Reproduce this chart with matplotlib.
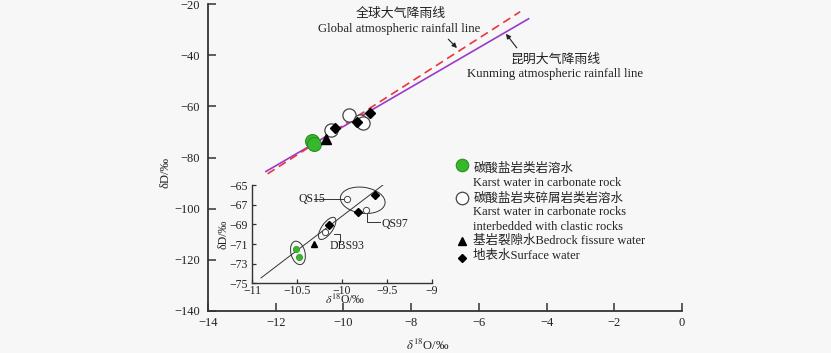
"""Stable isotope plot: dD vs d18O with inset (Kunming karst waters)."""

import matplotlib

matplotlib.use("Agg")
import matplotlib.pyplot as plt
from matplotlib.patches import Ellipse
from matplotlib.transforms import ScaledTranslation

plt.rcParams["font.family"] = ["Liberation Serif", "Noto Sans CJK SC", "DejaVu Sans"]
plt.rcParams["mathtext.fontset"] = "stix"
plt.rcParams["axes.unicode_minus"] = True

# ---- data, main panel ----
carb_x = [-10.93, -10.87]
carb_y = [-73.4, -74.7]
clastic_x = [-10.37, -9.84, -9.50, -9.42]
clastic_y = [-69.1, -63.3, -65.8, -66.6]
bedrock_x = [-10.52]
bedrock_y = [-72.8]
surface_x = [-10.25, -9.59, -9.22]
surface_y = [-68.5, -66.1, -62.6]

# rainfall lines: slope, intercept, x-range
global_line = (8.5, 17.7, -12.24, -4.78)
kunming_line = (7.7, 9.2, -12.29, -4.53)

# ---- data, inset ----
in_carb_x = [-10.51, -10.48]
in_carb_y = [-71.5, -72.3]
in_clastic_x = [-10.19, -9.94, -9.73]
in_clastic_y = [-69.75, -66.4, -67.5]
in_bedrock_x = [-10.31]
in_bedrock_y = [-71.0]
in_surface_x = [-10.14, -9.82, -9.63]
in_surface_y = [-69.1, -67.7, -66.0]
in_fit = (7.0, 1.85, -10.9, -9.53)

GREEN = "#36b82c"
PURPLE = "#9a3acb"
RED = "#e8363c"
INK = "#222222"
BG = "#f7f7f7"

fig = plt.figure(figsize=(8.31, 3.53), dpi=100, facecolor=BG)
ax = fig.add_axes([0.2503, 0.119, 0.5704, 0.869])
ax.set_facecolor(BG)
ax.set_xlim(-14, 0)
ax.set_ylim(-140, -20)
ax.set_xticks(range(-14, 1, 2))
ax.set_yticks(range(-140, -19, 20))
for s in ("top", "right"):
    ax.spines[s].set_visible(False)
for s in ("left", "bottom"):
    ax.spines[s].set_color("#333333")
    ax.spines[s].set_linewidth(1.3)
ax.tick_params(direction="in", length=6, width=1.1, colors="#333333",
               labelcolor=INK, labelsize=9)
ax.tick_params(axis="y", pad=6)
ax.tick_params(axis="x", pad=4)
ax.set_ylabel("δD/‰", fontsize=9, color=INK)
ax.yaxis.set_label_coords(-0.076, 0.45)
ax.set_xlabel(r"$\delta^{18}$O/‰", fontsize=9, color=INK)
ax.xaxis.set_label_coords(0.464, -0.088)


def draw_line(axis, spec, **kw):
    k, b, x0, x1 = spec
    axis.plot([x0, x1], [k * x0 + b, k * x1 + b], **kw)


draw_line(ax, kunming_line, color=PURPLE, lw=1.2, zorder=2)
draw_line(ax, global_line, color=RED, lw=1.2, ls=(0, (5, 3)), zorder=2)

ax.plot(carb_x, carb_y, "o", ms=10, mfc=GREEN, mec="#2a8f22", mew=0.8, zorder=3)
ax.plot(clastic_x, clastic_y, "o", ms=9.5, mfc="white", mec="#444444", mew=0.9, zorder=3)
ax.plot(bedrock_x, bedrock_y, "^", ms=7, color="black", zorder=4)
ax.plot(surface_x, surface_y, "D", ms=5.5, color="black", zorder=4)

# line labels
ax.text(-8.31, -23.8, "全球大气降雨线", ha="center", va="center", fontsize=9.3, color=INK)
ax.text(-8.36, -29.7, "Global atmospheric rainfall line", ha="center", va="center",
        fontsize=9.2, color=INK)
ax.annotate("", xy=(-6.59, -37.9), xytext=(-6.96, -32.9),
            arrowprops=dict(arrowstyle="-|>", color=INK, lw=0.8, mutation_scale=7))
ax.text(-3.74, -41.8, "昆明大气降雨线", ha="center", va="center", fontsize=9.3, color=INK)
ax.text(-3.74, -47.3, "Kunming atmospheric rainfall line", ha="center", va="center",
        fontsize=9.2, color=INK)
ax.annotate("", xy=(-5.25, -30.7), xytext=(-4.83, -37.9),
            arrowprops=dict(arrowstyle="-|>", color=INK, lw=0.8, mutation_scale=7))

# hand-made legend (axes fraction)
lx, tx = 0.535, 0.560
kw = dict(transform=ax.transAxes, clip_on=False)
ax.plot([lx], [0.476], "o", ms=9, mfc=GREEN, mec="#2a8f22", mew=0.8, **kw)
ax.plot([lx], [0.367], "o", ms=9, mfc="white", mec="#444444", mew=0.9, **kw)
ax.plot([lx], [0.229], "^", ms=6, color="black", **kw)
ax.plot([lx], [0.172], "D", ms=4.5, color="black", **kw)
legend_rows = [
    (0.462, "碳酸盐岩类岩溶水"),
    (0.416, "Karst water in carbonate rock"),
    (0.367, "碳酸盐岩夹碎屑岩类岩溶水"),
    (0.322, "Karst water in carbonate rocks"),
    (0.275, "interbedded with clastic rocks"),
    (0.229, "基岩裂隙水Bedrock fissure water"),
    (0.179, "地表水Surface water"),
]
for y, label in legend_rows:
    ax.text(tx, y, label, transform=ax.transAxes, ha="left", va="center",
            fontsize=9, color=INK)

# ---- inset ----
ins = fig.add_axes([0.3033, 0.1975, 0.2166, 0.2776])
ins.patch.set_alpha(0)
ins.set_xlim(-11, -9)
ins.set_ylim(-75, -65)
ins.set_xticks([-11, -10.5, -10, -9.5, -9])
ins.set_xticklabels(["−11", "−10.5", "−10", "−9.5", "−9"])
ins.set_yticks(range(-75, -64, 2))
for s in ("top", "right"):
    ins.spines[s].set_visible(False)
for s in ("left", "bottom"):
    ins.spines[s].set_color("#333333")
    ins.spines[s].set_linewidth(1.0)
ins.tick_params(direction="in", length=3, width=0.9, colors="#333333",
                labelcolor=INK, labelsize=8.5)
ins.tick_params(axis="x", pad=1)
ins.tick_params(axis="y", pad=3)
ins.set_ylabel("δD/‰", fontsize=8.5, color=INK)
ins.yaxis.set_label_coords(-0.125, 0.5)
ins.set_xlabel(r"$\delta^{18}$O/‰", fontsize=8.5, color=INK)
ins.xaxis.set_label_coords(0.517, -0.10)

draw_line(ins, in_fit, color="#333333", lw=0.7, zorder=2)
ins.plot(in_carb_x, in_carb_y, "o", ms=4.5, mfc=GREEN, mec="#2a8f22", mew=0.5, zorder=3)
ins.plot(in_clastic_x, in_clastic_y, "o", ms=4.5, mfc="white", mec="#444444", mew=0.7, zorder=3)
ins.plot(in_bedrock_x, in_bedrock_y, "^", ms=5, color="black", zorder=3)
ins.plot(in_surface_x, in_surface_y, "D", ms=4, color="black", zorder=3)

# group ellipses, sized in pixels around a data centre
for cx, cy, w, h, ang in [(-10.49, -71.9, 24, 14, 105),
                          (-10.165, -69.4, 26, 11, 55),
                          (-9.77, -66.53, 45, 26, -8)]:
    tr = fig.dpi_scale_trans + ScaledTranslation(cx, cy, ins.transData)
    ins.add_patch(Ellipse((0, 0), w / 100, h / 100, angle=ang, fill=False,
                          ec="#333333", lw=0.7, transform=tr, zorder=2))

lab = dict(fontsize=8.5, color=INK, va="center")
lk = dict(color="#333333", lw=0.7)
ins.text(-10.33, -66.35, "QS15", ha="center", **lab)
ins.plot([-10.31, -9.98], [-66.4, -66.4], **lk)
ins.plot([-9.726, -9.726, -9.58], [-67.8, -68.75, -68.75], **lk)
ins.text(-9.56, -68.9, "QS97", ha="left", **lab)
ins.plot([-10.086, -10.02, -10.02], [-70.0, -70.0, -70.75], **lk)
ins.text(-9.944, -71.2, "DBS93", ha="center", **lab)

fig.savefig("out.png", dpi=100, facecolor=BG)
